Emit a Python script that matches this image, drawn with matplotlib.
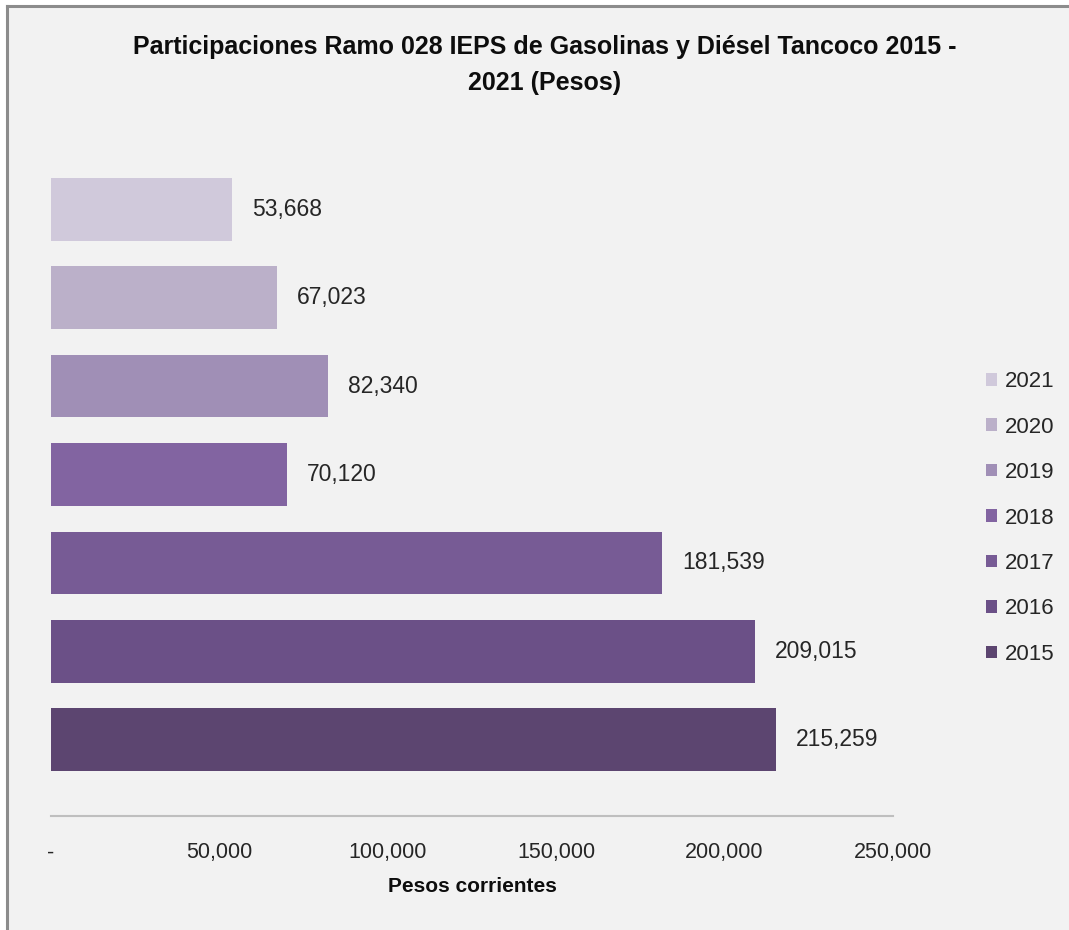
import matplotlib.pyplot as plt
from matplotlib.patches import Rectangle
from matplotlib.lines import Line2D
from matplotlib.ticker import FuncFormatter

# Datos (pesos corrientes)
anios = ['2015', '2016', '2017', '2018', '2019', '2020', '2021']
valores = [215259, 209015, 181539, 70120, 82340, 67023, 53668]
colores = ['#5c4570', '#6b5087', '#775b95', '#8264a1', '#a08fb6', '#bbb0c9', '#d0c9db']
ticks_x = [0, 50000, 100000, 150000, 200000, 250000]

titulo = 'Participaciones Ramo 028 IEPS de Gasolinas y Diésel Tancoco 2015 -\n2021 (Pesos)'
etiqueta_x = 'Pesos corrientes'

plt.rcParams['font.family'] = ['Liberation Sans', 'DejaVu Sans']

fondo = '#f2f2f2'
W, H = 1069, 930
fig = plt.figure(figsize=(10.69, 9.30), dpi=100, facecolor='white')

# fondo del área del gráfico y bordes (solo superior e izquierdo visibles)
fig.patches.append(Rectangle((7/W, 0), 1, 1 - 6/H, transform=fig.transFigure,
                             facecolor=fondo, edgecolor='none', zorder=-10))
fig.lines.append(Line2D([7/W, 1], [1 - 6/H, 1 - 6/H], transform=fig.transFigure,
                        color='#8c8c8c', linewidth=2.2, zorder=-5))
fig.lines.append(Line2D([7/W, 7/W], [0, 1 - 6/H], transform=fig.transFigure,
                        color='#8c8c8c', linewidth=2.2, zorder=-5))

ax = fig.add_axes([51/W, 1 - 816/H, 842/W, 683/H])
ax.set_facecolor('none')

barras = []
for i, (anio, val, col) in enumerate(zip(anios, valores, colores)):
    b = ax.barh(i, val, height=0.71, color=col, label=anio)
    barras.append(b)
    ax.annotate(f'{val:,}', (val, i), xytext=(14.5, 0), textcoords='offset points',
                va='center', ha='left', fontsize=16.5, color='#262626')

ax.set_xlim(0, 250000)
ax.set_ylim(-0.864, 6.864)
ax.set_xticks(ticks_x)
ax.xaxis.set_major_formatter(FuncFormatter(lambda v, p: '-' if v == 0 else f'{int(v):,}'))
ax.tick_params(axis='x', length=0, pad=19, labelsize=15.5, labelcolor='#262626')
ax.set_yticks([])
for s in ['top', 'right', 'left']:
    ax.spines[s].set_visible(False)
ax.spines['bottom'].set_color('#bfbfbf')
ax.spines['bottom'].set_linewidth(1.5)

ax.set_xlabel(etiqueta_x, fontsize=15, fontweight='bold', labelpad=10, color='#0d0d0d')

fig.text(545/W, 1 - 65/H, titulo, ha='center', va='center', fontsize=18,
         fontweight='bold', linespacing=1.6, color='#0d0d0d')

handles = barras[::-1]
fig.legend(handles, anios[::-1], loc='center left', bbox_to_anchor=(975/W, 1 - 518/H),
           frameon=False, fontsize=16, handlelength=0.5, handleheight=0.5,
           handletextpad=0.35, labelspacing=1.1, borderpad=0, labelcolor='#262626')

fig.savefig('out.png', dpi=100, facecolor='white')
